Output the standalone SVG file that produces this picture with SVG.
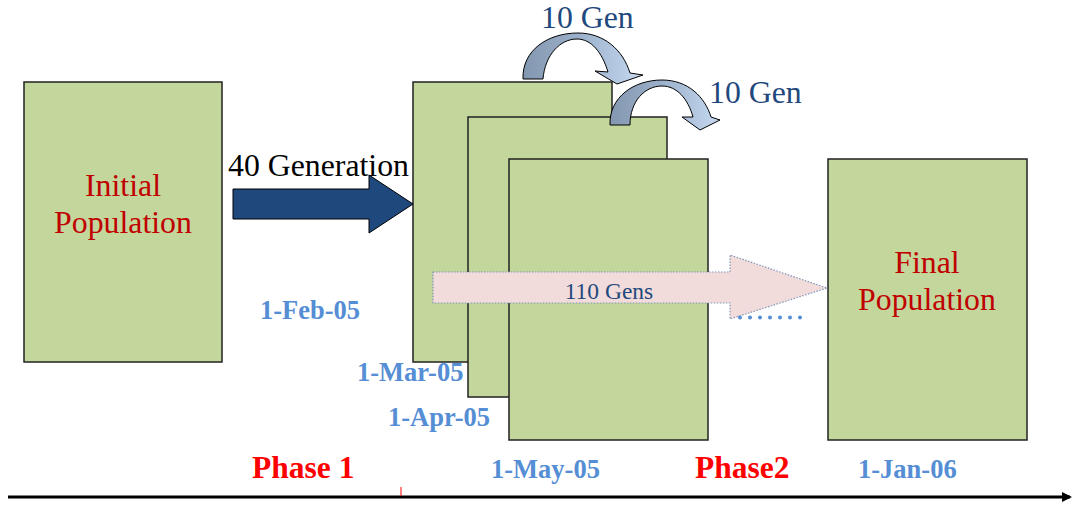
<svg xmlns="http://www.w3.org/2000/svg" width="1074" height="506" viewBox="0 0 1074 506">
<defs>
<style>
.box{fill:#c3d69b;stroke:#222;stroke-width:1.5}
.big{font-family:"Liberation Serif","Times New Roman",serif;font-size:31.8px}
.red{fill:#c00000}
.navy{fill:#1f497d}
.date{font-family:"Liberation Serif","Times New Roman",serif;font-size:26.5px;font-weight:bold;fill:#558ed5}
.phase{font-family:"Liberation Serif","Times New Roman",serif;font-size:31.5px;font-weight:bold;fill:#ff0000}
.curve{stroke:#000;stroke-width:1;fill:url(#cg)}
</style>
<linearGradient id="cg" x1="0" y1="0" x2="1" y2="0">
<stop offset="0" stop-color="#8497b0"/>
<stop offset="0.45" stop-color="#9aafc9"/>
<stop offset="1" stop-color="#c6d9f1"/>
</linearGradient>
<marker id="ah" markerWidth="10" markerHeight="10" refX="8" refY="5" orient="auto" markerUnits="userSpaceOnUse">
<path d="M0,0 L10,5 L0,10 Z" fill="#000"/>
</marker>
</defs>
<rect width="1074" height="506" fill="#fff"/>

<g id="initial">
<rect class="box" x="24" y="82" width="198" height="280"/>
<text class="big red" x="123" y="196" text-anchor="middle">Initial</text>
<text class="big red" x="123" y="233" text-anchor="middle">Population</text>
</g>

<g id="pop1"><rect class="box" x="413" y="82" width="199" height="280"/></g>
<g id="pop2"><rect class="box" x="468" y="117" width="199" height="280"/></g>
<g id="pop3"><rect class="box" x="509" y="159" width="199" height="281"/></g>

<g id="final">
<rect class="box" x="828" y="159" width="199" height="281"/>
<text class="big red" x="927" y="273" text-anchor="middle">Final</text>
<text class="big red" x="927" y="310" text-anchor="middle">Population</text>
</g>

<g id="connectors">
<path d="M233,189 L369,189 L369,175 L413,204 L369,233 L369,219 L233,219 Z" fill="#1f497d" stroke="#000" stroke-width="1"/>
<text class="big" x="228" y="176" fill="#000">40 Generation</text>

<path class="curve" d="M523,79 C522,50 548,33 578,33 C604,33 623,50 630,73 L643,75 L617,84 L595,71 L608,72 C602,52 591,39 577,39 C560,39 545,55 543,79 Z"/>
<text class="big navy" x="541" y="28">10 Gen</text>

<path class="curve" d="M610,125 C609,97 634,80 662,80 C688,80 705,97 711,117 L720,120 L700,130 L682,117 L693,117 C688,99 677,86 662,86 C645,86 630,101 630,125 Z"/>
<text class="big navy" x="709" y="103">10 Gen</text>

<path d="M433,272 L730,272 L730,255 L827,288 L730,319 L730,303 L433,303 Z" fill="#f2dcdb" stroke="#7f95b8" stroke-width="1.2" stroke-dasharray="1.5,1.5"/>
<text x="609" y="299" text-anchor="middle" font-family="Liberation Serif, Times New Roman, serif" font-size="23.5" fill="#1f497d">110 Gens</text>
<line x1="740" y1="317.5" x2="810" y2="317.5" stroke="#558ed5" stroke-width="4" stroke-linecap="round" stroke-dasharray="0,10"/>

<line x1="8" y1="497" x2="1070" y2="497" stroke="#000" stroke-width="3" marker-end="url(#ah)"/>
<line x1="401" y1="487" x2="401" y2="496" stroke="#ff0000" stroke-width="1"/>
</g>

<text class="date" x="260" y="319">1-Feb-05</text>
<text class="date" x="357" y="381">1-Mar-05</text>
<text class="date" x="388" y="426">1-Apr-05</text>
<text class="date" x="491" y="478">1-May-05</text>
<text class="date" x="858" y="478">1-Jan-06</text>
<text class="phase" x="252" y="478">Phase 1</text>
<text class="phase" x="695" y="478">Phase2</text>
</svg>
